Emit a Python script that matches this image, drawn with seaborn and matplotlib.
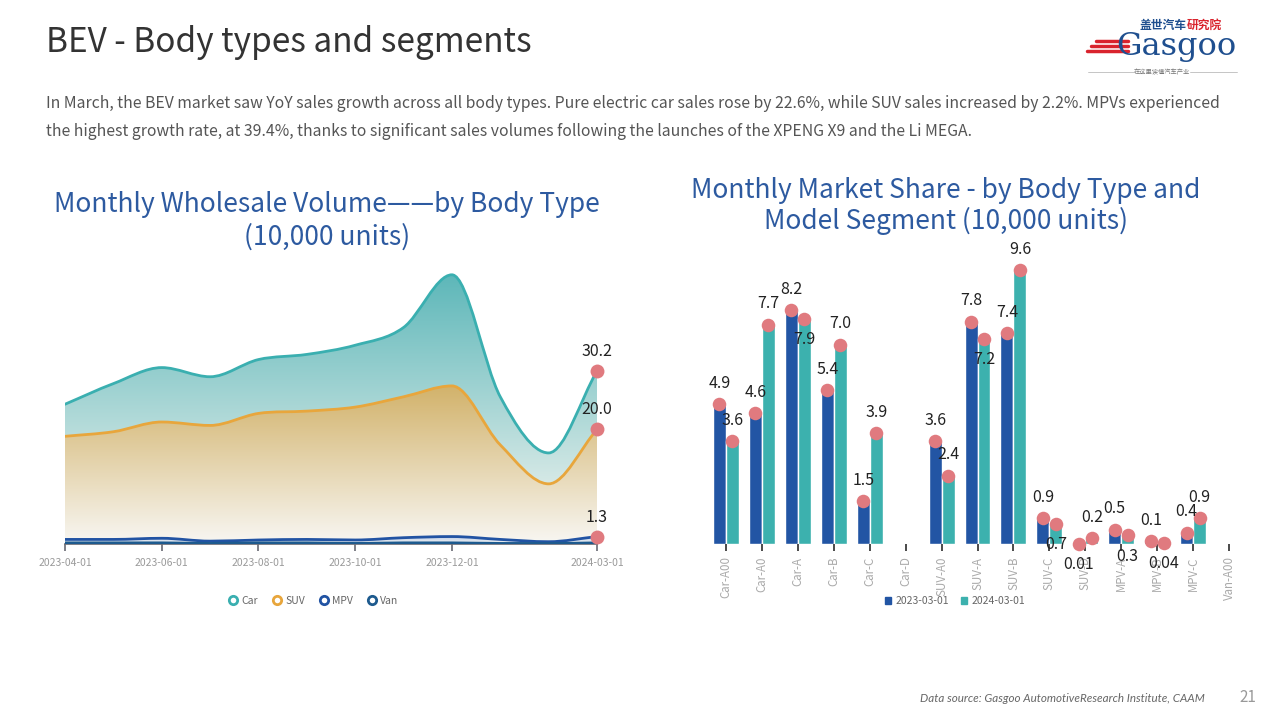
import numpy as np
import pandas as pd
import matplotlib
matplotlib.use("Agg")
import matplotlib.pyplot as plt
import seaborn as sns
from matplotlib.path import Path
from matplotlib.patches import PathPatch, Patch
from matplotlib.lines import Line2D
from matplotlib.colors import to_rgb

# ---- left chart: monthly wholesale volume (10,000 units)
months = ['2023-04-01', '2023-05-01', '2023-06-01', '2023-07-01', '2023-08-01', '2023-09-01',
          '2023-10-01', '2023-11-01', '2023-12-01', '2024-01-01', '2024-02-01', '2024-03-01']
car = [24.4, 28.0, 30.8, 29.2, 32.2, 33.1, 34.7, 37.8, 47.0, 25.7, 15.9, 30.2]
suv = [18.8, 19.6, 21.3, 20.7, 22.8, 23.2, 23.9, 25.7, 27.6, 17.3, 10.5, 20.0]
mpv = [0.8, 0.8, 1.0, 0.5, 0.7, 0.8, 0.7, 1.1, 1.3, 0.8, 0.4, 1.3]
van = [0.2, 0.2, 0.2, 0.1, 0.2, 0.2, 0.1, 0.2, 0.2, 0.1, 0.1, 0.2]
tick_months = ['2023-04-01', '2023-06-01', '2023-08-01', '2023-10-01', '2023-12-01', '2024-03-01']

# ---- right chart: market share by segment
segments = ['Car-A00', 'Car-A0', 'Car-A', 'Car-B', 'Car-C', 'Car-D', 'SUV-A0', 'SUV-A', 'SUV-B',
            'SUV-C', 'SUV-D', 'MPV-A', 'MPV-B', 'MPV-C', 'Van-A00']
share_2023 = [4.9, 4.6, 8.2, 5.4, 1.5, np.nan, 3.6, 7.8, 7.4, 0.9, 0.01, 0.5, 0.1, 0.4, np.nan]
share_2024 = [3.6, 7.7, 7.9, 7.0, 3.9, np.nan, 2.4, 7.2, 9.6, 0.7, 0.2, 0.3, 0.04, 0.9, np.nan]
dates = ['2023-03-01', '2024-03-01']
side_2023 = ['top'] * 10 + ['bottom'] + ['top'] * 4
side_2024 = ['top', 'top', 'bottom', 'top', 'top', 'top', 'top', 'bottom', 'top',
             'bottom', 'top', 'bottom', 'bottom', 'top', 'top']

TEAL, ORANGE, BLUE, NAVY = '#3aafb0', '#e8a63c', '#2153a3', '#1d5a8e'
BAR_BLUE, BAR_TEAL, DOT = '#2255a4', '#3cb1ae', '#e07a7f'
TITLE_BLUE = '#2d5aa0'

sns.set_theme(style='white')
plt.rcParams['font.family'] = ['Noto Sans CJK SC', 'DejaVu Sans']

W, H = 1280, 720
fig = plt.figure(figsize=(12.8, 7.2), dpi=100)


def fx(px):
    return px / W


def fy(py):
    return 1 - py / H


def smooth_path(x, y):
    x = np.asarray(x, float)
    y = np.asarray(y, float)
    d = np.diff(y) / np.diff(x)
    m = np.empty_like(y)
    m[0], m[-1] = d[0], d[-1]
    for i in range(1, len(y) - 1):
        m[i] = 0 if d[i - 1] * d[i] <= 0 else (d[i - 1] + d[i]) / 2
    verts = [(x[0], y[0])]
    codes = [Path.MOVETO]
    for i in range(len(x) - 1):
        h = (x[i + 1] - x[i]) / 3
        verts += [(x[i] + h, y[i] + m[i] * h), (x[i + 1] - h, y[i + 1] - m[i + 1] * h), (x[i + 1], y[i + 1])]
        codes += [Path.CURVE4] * 3
    return verts, codes


def area(ax, x, y, color, top_color, z, lw=2):
    verts, codes = smooth_path(x, y)
    fverts = verts + [(x[-1], 0), (x[0], 0), (x[0], y[0])]
    fcodes = codes + [Path.LINETO, Path.LINETO, Path.CLOSEPOLY]
    clip = PathPatch(Path(fverts, fcodes), facecolor='none', edgecolor='none', transform=ax.transData)
    ax.add_patch(clip)
    top = max(y)
    t = np.linspace(0, 1, 256)[:, None]
    bottom = np.array(to_rgb('#f8f7f3'))
    img = bottom * (1 - t) + np.array(to_rgb(top_color)) * t
    im = ax.imshow(img[:, None, :], extent=(x[0], x[-1], 0, top), origin='lower',
                   aspect='auto', zorder=z, interpolation='bilinear')
    im.set_clip_path(clip)
    ax.add_patch(PathPatch(Path(verts, codes), facecolor='none', edgecolor=color, lw=lw,
                           zorder=z + 0.5, capstyle='round', joinstyle='round'))


# ---------------- left chart
ax1 = fig.add_axes([fx(65), fy(544), fx(532), 286.4 / H])
xs = np.arange(len(months))
area(ax1, xs, car, TEAL, '#5db7b9', 1)
area(ax1, xs, suv, ORANGE, '#d2b26a', 2)
area(ax1, xs, mpv, BLUE, '#b9cbe6', 3)
area(ax1, xs, van, NAVY, '#c9d6ea', 4)
ax1.set_xlim(0, len(months) - 1)
ax1.set_ylim(0, 50)
for series in [car, suv, mpv]:
    ax1.scatter(xs[-1], series[-1], s=100, color=DOT, zorder=10, clip_on=False, linewidths=0)
    ax1.annotate(f'{series[-1]:.1f}', (xs[-1], series[-1]), xytext=(0, 14), textcoords='offset points',
                 ha='center', va='center', fontsize=11.5, color='#222', zorder=11)
ax1.set_xticks([months.index(m) for m in tick_months])
ax1.set_xticklabels(tick_months)
ax1.set_yticks([])
sns.despine(ax=ax1, left=True)
ax1.spines['bottom'].set_color('#6e7079')
ax1.tick_params(axis='x', length=5, color='#6e7079', labelsize=7.5, labelcolor='#9a9a9a', pad=5, bottom=True)
ax1.set_facecolor('none')

fig.legend(handles=[Line2D([], [], ls='none', marker='o', ms=6, mfc='white', mec=c, mew=2, label=l)
                    for c, l in zip([TEAL, ORANGE, BLUE, NAVY], ['Car', 'SUV', 'MPV', 'Van'])],
           loc='center', bbox_to_anchor=(fx(313), fy(601)), ncol=4, frameon=False, fontsize=7.5,
           labelcolor='#666', handletextpad=0.3, columnspacing=1.3, handlelength=1)

# ---------------- right chart
ax2 = fig.add_axes([fx(708), fy(544), fx(539), 285 / H])
df = pd.DataFrame({'segment': segments * 2,
                   'date': [dates[0]] * len(segments) + [dates[1]] * len(segments),
                   'value': share_2023 + share_2024}).dropna()
sns.barplot(data=df, x='segment', y='value', hue='date', order=segments, hue_order=dates,
            palette=[BAR_BLUE, BAR_TEAL], width=0.72, saturation=1, legend=False, ax=ax2, zorder=2)
ax2.set_xlim(-0.5, len(segments) - 0.5)
ax2.set_ylim(0, 10)
for cont, vals, sides in zip(ax2.containers, [share_2023, share_2024], [side_2023, side_2024]):
    kept = [(v, s) for v, s in zip(vals, sides) if not np.isnan(v)]
    for bar, (v, s) in zip(cont, kept):
        cx = bar.get_x() + bar.get_width() / 2
        h = bar.get_height()
        ax2.scatter(cx, h, s=95, color=DOT, zorder=5, clip_on=False, linewidths=0)
        txt = f'{v:.2f}' if v < 0.1 else f'{v:.1f}'
        off = 15 if s == 'top' else -15
        ax2.annotate(txt, (cx, h), xytext=(0, off), textcoords='offset points', ha='center',
                     va='center', fontsize=11.5, color='#222', zorder=6, annotation_clip=False)
ax2.set_xlabel('')
ax2.set_ylabel('')
ax2.set_yticks([])
sns.despine(ax=ax2, left=True, bottom=True)
ax2.tick_params(axis='x', length=5, color='#333', bottom=True, labelsize=8.3, labelcolor='#aaaaaa',
                labelrotation=90, pad=4)
ax2.set_facecolor('none')

fig.legend(handles=[Patch(color=BAR_BLUE, label=dates[0]), Patch(color=BAR_TEAL, label=dates[1])],
           loc='center', bbox_to_anchor=(fx(955), fy(601)), ncol=2, frameon=False, fontsize=7.5,
           labelcolor='#666', handlelength=0.6, handleheight=0.6, handletextpad=0.4, columnspacing=1.2)

# ---------------- texts
fig.text(fx(46), fy(43), 'BEV - Body types and segments', fontsize=24, color='#333', va='center')
fig.text(fx(46), fy(103), 'In March, the BEV market saw YoY sales growth across all body types. Pure electric car '
         'sales rose by 22.6%, while SUV sales increased by 2.2%. MPVs experienced',
         fontsize=11.35, color='#555', va='center')
fig.text(fx(46), fy(132), 'the highest growth rate, at 39.4%, thanks to significant sales volumes following the '
         'launches of the XPENG X9 and the Li MEGA.', fontsize=11.35, color='#555', va='center')

fig.text(fx(327), fy(205), 'Monthly Wholesale Volume——by Body Type', fontsize=19, color=TITLE_BLUE,
         ha='center', va='center')
fig.text(fx(327), fy(237), '(10,000 units)', fontsize=19, color=TITLE_BLUE, ha='center', va='center')
fig.text(fx(946), fy(191), 'Monthly Market Share - by Body Type and', fontsize=19, color=TITLE_BLUE,
         ha='center', va='center')
fig.text(fx(946), fy(221), 'Model Segment (10,000 units)', fontsize=19, color=TITLE_BLUE,
         ha='center', va='center')

fig.text(fx(1205), fy(698), 'Data source: Gasgoo AutomotiveResearch Institute, CAAM', fontsize=8.4,
         color='#666', style='italic', family=['Lato', 'DejaVu Sans'], ha='right', va='center')
fig.text(fx(1248), fy(698), '21', fontsize=11, color='#999', ha='center', va='center')

# ---------------- logo
fig.text(fx(1186), fy(25), '盖世汽车', fontsize=8.5, color='#1f4f8f', weight='bold', ha='right', va='center')
fig.text(fx(1187), fy(25), '研究院', fontsize=8.5, color='#d9232d', weight='bold', ha='left', va='center')
fig.text(fx(1116), fy(47), 'Gasgoo', fontsize=23, color='#1f4f8f', va='center', family='DejaVu Serif')
for yy, x0 in zip([41, 46, 51], [1096, 1091, 1087]):
    fig.add_artist(Line2D([fx(x0), fx(1128)], [fy(yy), fy(yy)], color='#d9232d', lw=2.5,
                          transform=fig.transFigure))
fig.text(fx(1162), fy(72), '在这里读懂汽车产业', fontsize=4.5, color='#777', ha='center', va='center')
for a, b in [(1088, 1135), (1190, 1237)]:
    fig.add_artist(Line2D([fx(a), fx(b)], [fy(72), fy(72)], color='#bbb', lw=0.6, transform=fig.transFigure))

fig.savefig('out.png', dpi=100)
